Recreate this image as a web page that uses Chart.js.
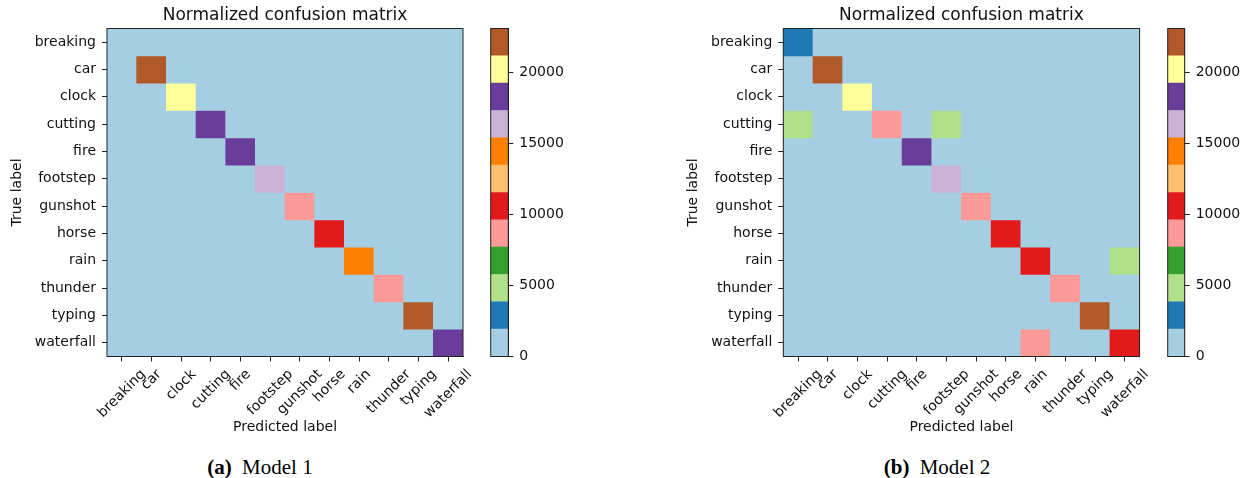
<!DOCTYPE html>
<html>
<head>
<meta charset="utf-8">
<script src="https://cdn.jsdelivr.net/npm/chart.js@4.4.0/dist/chart.umd.min.js"></script>
<style>
    body { margin: 0; width: 1246px; height: 478px; background: #fff; position: relative; overflow: hidden; }
    .box { position: absolute; top: 0; }
    .caption {
        position: absolute; top: 455px; transform: translateX(-50%);
        font-family: "Liberation Serif", "Times New Roman", serif; font-size: 21px; line-height: 24px;
        color: #000; white-space: nowrap;
    }
    .caption b { margin-right: 5px; }
</style>
</head>
<body>
<div class="box" style="left:0px"><canvas id="cm1" width="480" height="440"></canvas></div>
<div class="box" style="left:480px"><canvas id="cb1" width="100" height="440"></canvas></div>
<div class="box" style="left:676px"><canvas id="cm2" width="480" height="440"></canvas></div>
<div class="box" style="left:1156px"><canvas id="cb2" width="90" height="440"></canvas></div>
<div class="caption" style="left:260px"><b>(a)</b> Model 1</div>
<div class="caption" style="left:937px"><b>(b)</b> Model 2</div>

<script>
// ================================
// Data (rows = true label, columns = predicted label)
// ================================
const classNames = ['breaking', 'car', 'clock', 'cutting', 'fire', 'footstep', 'gunshot', 'horse', 'rain', 'thunder', 'typing', 'waterfall'];

const model1Rows = [
    [1500, 0, 0, 0, 0, 0, 0, 0, 0, 0, 0, 0],
    [0, 23100, 0, 0, 0, 0, 0, 0, 0, 0, 0, 0],
    [0, 0, 20200, 0, 0, 0, 0, 0, 0, 0, 0, 0],
    [0, 0, 0, 18300, 0, 0, 0, 0, 0, 0, 0, 0],
    [0, 0, 0, 0, 18300, 0, 0, 0, 0, 0, 0, 0],
    [0, 0, 0, 0, 0, 16400, 0, 0, 0, 0, 0, 0],
    [0, 0, 0, 0, 0, 0, 8700, 0, 0, 0, 0, 0],
    [0, 0, 0, 0, 0, 0, 0, 10600, 0, 0, 0, 0],
    [0, 0, 0, 0, 0, 0, 0, 0, 14400, 0, 0, 0],
    [0, 0, 0, 0, 0, 0, 0, 0, 0, 8700, 0, 0],
    [0, 0, 0, 0, 0, 0, 0, 0, 0, 0, 22100, 0],
    [0, 0, 0, 0, 0, 0, 0, 0, 0, 0, 0, 18300]
];

const model2Rows = [
    [2900, 0, 0, 0, 0, 0, 0, 0, 0, 0, 0, 0],
    [0, 23100, 0, 0, 0, 0, 0, 0, 0, 0, 0, 0],
    [0, 0, 20200, 0, 0, 0, 0, 0, 0, 0, 0, 0],
    [4800, 0, 0, 8700, 0, 4800, 0, 0, 0, 0, 0, 0],
    [0, 0, 0, 0, 18300, 0, 0, 0, 0, 0, 0, 0],
    [0, 0, 0, 0, 0, 16400, 0, 0, 0, 0, 0, 0],
    [0, 0, 0, 0, 0, 0, 8700, 0, 0, 0, 0, 0],
    [0, 0, 0, 0, 0, 0, 0, 10600, 0, 0, 0, 0],
    [0, 0, 0, 0, 0, 0, 0, 0, 10600, 0, 0, 4800],
    [0, 0, 0, 0, 0, 0, 0, 0, 0, 8700, 0, 0],
    [0, 0, 0, 0, 0, 0, 0, 0, 0, 0, 22100, 0],
    [0, 0, 0, 0, 0, 0, 0, 0, 8700, 0, 0, 10600]
];

const colorbarTicks = [0, 5000, 10000, 15000, 20000];

// matplotlib "Paired"
const pairedColors = ['#a6cee3', '#1f78b4', '#b2df8a', '#33a02c', '#fb9a99', '#e31a1c',
                      '#fdbf6f', '#ff7f00', '#cab2d6', '#6a3d9a', '#ffff99', '#b15928'];

const TEXT = '#111';
const LINE = '#222';
const tickFont = { family: '"DejaVu Sans", sans-serif', size: 14 };

function cellColor(v, vmax) {
    const k = Math.min(pairedColors.length - 1, Math.floor(v / vmax * pairedColors.length));
    return pairedColors[k];
}

// ================================
// Plugins
// ================================
const frameBox = {
    id: 'frameBox',
    afterDraw(chart) {
        const { ctx, chartArea: a } = chart;
        ctx.save();
        ctx.strokeStyle = LINE;
        ctx.lineWidth = 1;
        ctx.strokeRect(a.left, a.top, a.width, a.height);
        ctx.restore();
    }
};

const matrixExtras = {
    id: 'matrixExtras',
    beforeDatasetsDraw(chart) {
        const { ctx, chartArea: a } = chart;
        ctx.save();
        ctx.fillStyle = pairedColors[0];
        ctx.fillRect(a.left, a.top, a.width, a.height);
        ctx.restore();
    },
    afterDraw(chart) {
        // x tick labels rotated 45deg, bbox centred on the tick (matplotlib style)
        const { ctx, chartArea: a, scales: { x } } = chart;
        ctx.save();
        ctx.font = '14px "DejaVu Sans"';
        ctx.fillStyle = TEXT;
        ctx.textAlign = 'center';
        ctx.textBaseline = 'middle';
        const h = 16, s = Math.SQRT1_2, top = a.bottom + 10;
        classNames.forEach((name, i) => {
            const w = ctx.measureText(name).width;
            ctx.save();
            ctx.translate(x.getPixelForValue(i), top + (w + h) * s / 2);
            ctx.rotate(-Math.PI / 4);
            ctx.fillText(name, 0, 0);
            ctx.restore();
        });
        ctx.restore();
    }
};

// ================================
// Chart builders
// ================================
function makeMatrixChart(id, rows, vmax, axisWidth, padRight) {
    const datasets = rows.map((row, r) => ({
        label: classNames[r],
        data: row.map(() => [r, r + 1]),
        backgroundColor: row.map(v => cellColor(v, vmax)),
        borderWidth: 0,
        barPercentage: 1,
        categoryPercentage: 1,
        grouped: false
    }));

    new Chart(document.getElementById(id), {
        type: 'bar',
        data: { labels: classNames, datasets },
        options: {
            responsive: false,
            animation: false,
            events: [],
            layout: { padding: { left: 0, right: padRight, top: 0, bottom: 0 } },
            plugins: {
                legend: { display: false },
                tooltip: { enabled: false },
                title: {
                    display: true,
                    fullSize: false,
                    text: 'Normalized confusion matrix',
                    color: TEXT,
                    font: { family: '"DejaVu Sans", sans-serif', size: 17, weight: 'normal', lineHeight: 1.2 },
                    padding: { top: 5, bottom: 3.1 }
                }
            },
            scales: {
                x: {
                    type: 'category',
                    offset: true,
                    grid: { drawOnChartArea: false, offset: false, tickLength: 5, color: LINE },
                    border: { color: LINE },
                    ticks: { color: 'rgba(0,0,0,0)', minRotation: 0, maxRotation: 0, autoSkip: false, font: tickFont },
                    title: {
                        display: true, text: 'Predicted label', color: TEXT,
                        font: tickFont, padding: { top: 0, bottom: 4.6 }
                    },
                    afterFit(s) { s.height = 83.5; s.paddingLeft = 0; s.paddingRight = 0; }
                },
                y: {
                    type: 'linear',
                    min: 0,
                    max: 12,
                    reverse: true,
                    afterBuildTicks(s) { s.ticks = classNames.map((_, i) => ({ value: i + 0.5 })); },
                    grid: { drawOnChartArea: false, tickLength: 5, color: LINE },
                    border: { color: LINE },
                    ticks: { color: TEXT, padding: 6, font: tickFont, autoSkip: false, callback: v => classNames[Math.floor(v)] },
                    title: {
                        display: true, text: 'True label', color: TEXT,
                        font: tickFont, padding: { top: 8.7, bottom: 0 }
                    },
                    afterFit(s) { s.width = axisWidth; s.paddingTop = 0; s.paddingBottom = 0; }
                }
            }
        },
        plugins: [matrixExtras, frameBox]
    });
}

function makeColorbar(id, vmax, padLeft, axisWidth) {
    const step = vmax / pairedColors.length;
    const datasets = pairedColors.map((c, k) => ({
        data: [[k * step, (k + 1) * step]],
        backgroundColor: c,
        borderWidth: 0,
        barPercentage: 1,
        categoryPercentage: 1,
        grouped: false
    }));

    new Chart(document.getElementById(id), {
        type: 'bar',
        data: { labels: [''], datasets },
        options: {
            responsive: false,
            animation: false,
            events: [],
            layout: { padding: { left: padLeft, right: 0, top: 28.5, bottom: 83.5 } },
            plugins: { legend: { display: false }, tooltip: { enabled: false } },
            scales: {
                x: { display: false },
                y: {
                    position: 'right',
                    min: 0,
                    max: vmax,
                    afterBuildTicks(s) { s.ticks = colorbarTicks.map(v => ({ value: v })); },
                    grid: { drawOnChartArea: false, tickLength: 5, color: LINE },
                    border: { color: LINE },
                    ticks: { color: TEXT, padding: 6, font: tickFont, callback: v => String(v) },
                    afterFit(s) { s.width = axisWidth; s.paddingTop = 0; s.paddingBottom = 0; }
                }
            }
        },
        plugins: [frameBox]
    });
}

const vmax1 = Math.max(...model1Rows.flat());
const vmax2 = Math.max(...model2Rows.flat());

makeMatrixChart('cm1', model1Rows, vmax1, 107, 17);
makeColorbar('cb1', vmax1, 10.7, 71.7);
makeMatrixChart('cm2', model2Rows, vmax2, 107.3, 16.4);
makeColorbar('cb2', vmax2, 11.7, 61.3);
</script>
</body>
</html>
